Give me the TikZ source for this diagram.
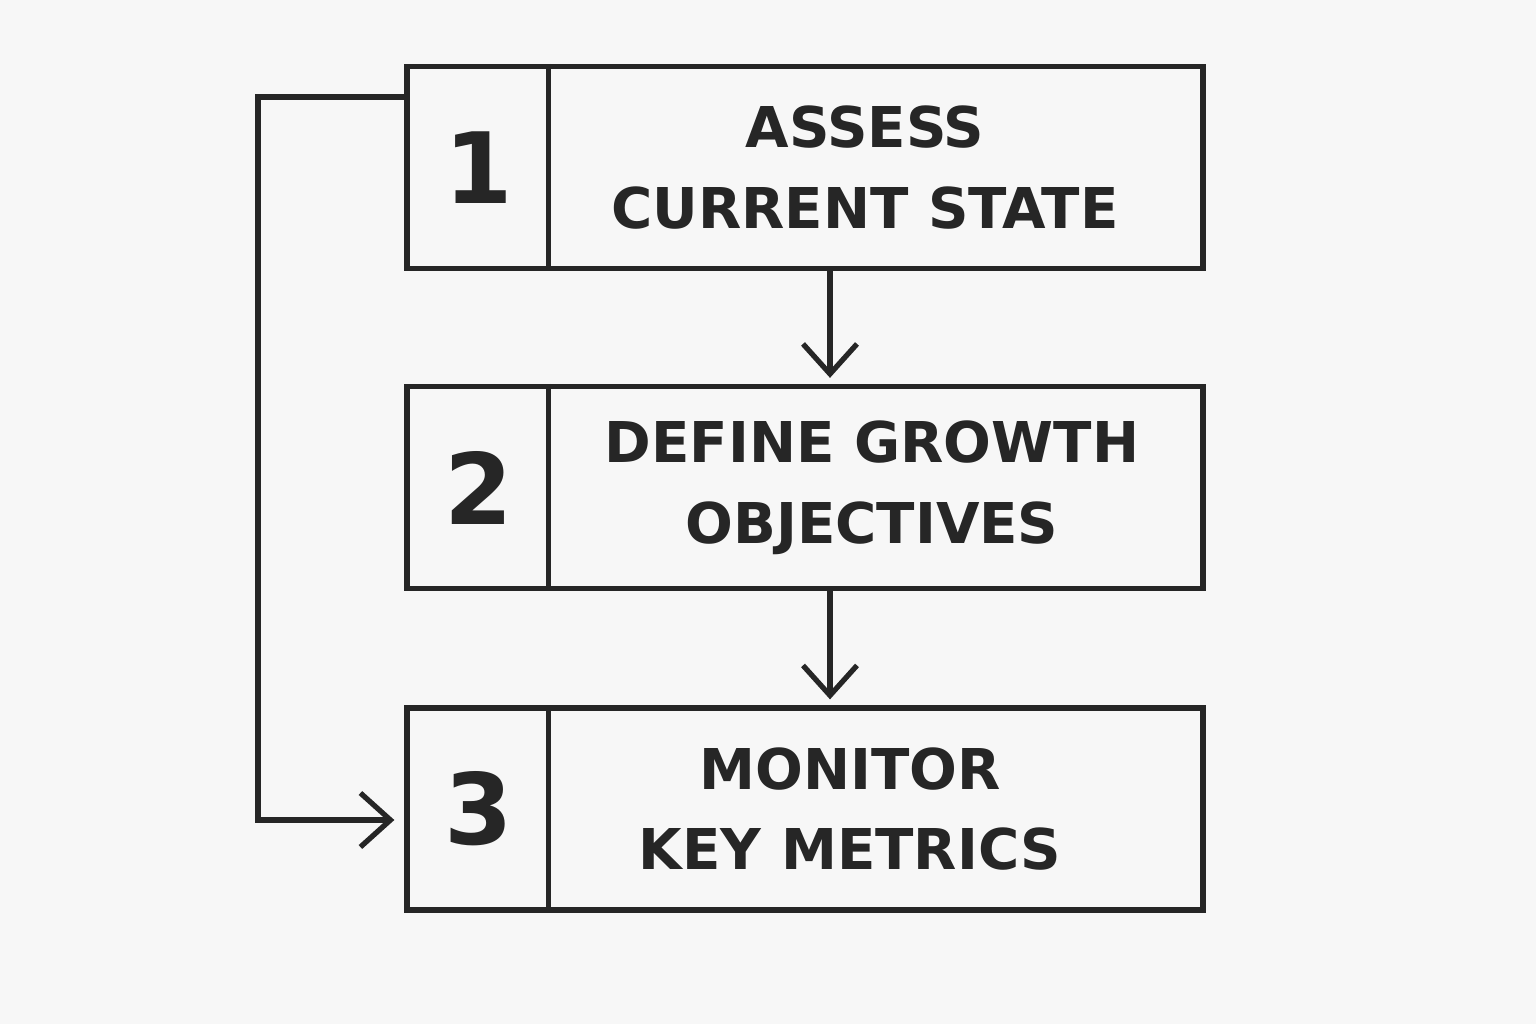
\documentclass[tikz,border=0pt]{standalone}
\usepackage{fontspec}
\setmainfont{DejaVu Sans}
\usetikzlibrary{arrows.meta}
\tikzset{
  stepbox/.style={draw=black!85, line width=1.5pt, minimum width=7.96cm, minimum height=2.02cm, inner sep=0pt},
  numtxt/.style={font=\bfseries\fontsize{28}{28}\selectfont, text=black!85},
  steptxt/.style={font=\bfseries\fontsize{16}{23}\selectfont, text=black!85, align=center},
  flow/.style={draw=black!85, line width=1.5pt, -{Straight Barb[length=3mm,width=5.4mm,line width=1.5pt]}}
}
\begin{document}
\begin{tikzpicture}
\fill[white!97!black] (0,0) rectangle (15.36,10.24);
\useasboundingbox (0,0) rectangle (15.36,10.24);

% boxes
\node[stepbox] (box1) at (8.05,8.565) {};
\node[stepbox] (box2) at (8.05,5.365) {};
\node[stepbox] (box3) at (8.05,2.15) {};
\foreach \b in {box1,box2,box3}{
\draw[line width=1.5pt, black!85] ([xshift=1.44cm]\b.north west) -- ([xshift=1.44cm]\b.south west);}

% numbers
\node[numtxt] (n1) at (4.79,8.565) {1};
\node[numtxt] (n2) at (4.79,5.365) {2};
\node[numtxt] (n3) at (4.79,2.15) {3};

% labels
\node[steptxt] (t1) at (8.65,8.565) {ASSESS\\CURRENT STATE};
\node[steptxt] (t2) at (8.72,5.365) {DEFINE GROWTH\\OBJECTIVES};
\node[steptxt] (t3) at (8.5,2.15) {MONITOR\\KEY METRICS};

% arrows
\draw[flow, shorten >=0.06cm] (box1.south) ++(0.25,0) coordinate (a1) -- (a1 |- box2.north);
\draw[flow, shorten >=0.06cm] (box2.south) ++(0.25,0) coordinate (a2) -- (a2 |- box3.north);

\coordinate (loopa) at (2.58,9.27);
\coordinate (loopb) at (2.58,2.04);
\draw[flow, shorten >=0.1cm] (box1.west |- loopa) -- (loopa) -- (loopb) -- (box3.west |- loopb);
\end{tikzpicture}
\end{document}
